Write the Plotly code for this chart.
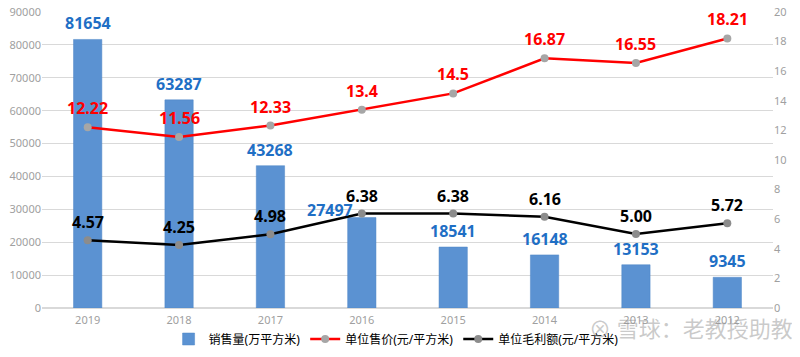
import plotly.graph_objects as go

years = ["2019", "2018", "2017", "2016", "2015", "2014", "2013", "2012"]
sales = [81654, 63287, 43268, 27497, 18541, 16148, 13153, 9345]
price = [12.22, 11.56, 12.33, 13.4, 14.5, 16.87, 16.55, 18.21]
margin = [4.57, 4.25, 4.98, 6.38, 6.38, 6.16, 5.00, 5.72]
sales_labels = ["81654", "63287", "43268", "27497", "18541", "16148", "13153", "9345"]
price_labels = ["12.22", "11.56", "12.33", "13.4", "14.5", "16.87", "16.55", "18.21"]
margin_labels = ["4.57", "4.25", "4.98", "6.38", "6.38", "6.16", "5.00", "5.72"]

FONT = "Noto Sans, Noto Sans CJK SC, sans-serif"
fig = go.Figure()
fig.add_trace(go.Bar(
    x=years, y=sales, name="销售量(万平方米)",
    marker=dict(color="#5b92d2", line=dict(color="#4f86c6", width=0.5)),
))
fig.add_trace(go.Scatter(
    x=years, y=price, name="单位售价(元/平方米)", yaxis="y2", mode="lines+markers",
    line=dict(color="#ff0000", width=2.5),
    marker=dict(color="#a6a6a6", size=8),
))
fig.add_trace(go.Scatter(
    x=years, y=margin, name="单位毛利额(元/平方米)", yaxis="y2", mode="lines+markers",
    line=dict(color="#000000", width=2.5),
    marker=dict(color="#8c8c8c", size=8),
))

annotations = []
for i, (v, t) in enumerate(zip(sales, sales_labels)):
    xs = -32 if t == "27497" else 0
    ys = 8 if t == "27497" else 16
    annotations.append(dict(x=i, y=v, xref="x", yref="y", text=t, showarrow=False,
                            xshift=xs, yshift=ys,
                            font=dict(color="#1f6fc5", size=16, family=FONT, weight="bold")))
for i, (v, t) in enumerate(zip(price, price_labels)):
    annotations.append(dict(x=i, y=v, xref="x", yref="y2", text=t, showarrow=False,
                            yshift=19, font=dict(color="#ff0000", size=16, family=FONT, weight="bold")))
for i, (v, t) in enumerate(zip(margin, margin_labels)):
    annotations.append(dict(x=i, y=v, xref="x", yref="y2", text=t, showarrow=False,
                            yshift=18, font=dict(color="#000000", size=16, family=FONT, weight="bold")))
annotations.append(dict(x=1.03, y=-0.068, xref="paper", yref="paper", xanchor="right", yanchor="middle",
                        text="⊗ 雪球：老教授助教", showarrow=False,
                        font=dict(color="rgba(150,150,150,0.5)", size=22, family=FONT)))

fig.update_layout(
    width=792, height=349,
    margin=dict(l=34, r=27, t=4, b=49, autoexpand=False),
    paper_bgcolor="white", plot_bgcolor="white",
    font=dict(family=FONT, color="#a0a0a0", size=11),
    bargap=0.69,
    showlegend=True,
    legend=dict(orientation="h", xref="container", yref="container", x=0.49, y=0.01,
                xanchor="center", yanchor="bottom",
                font=dict(color="#000000", size=12, family=FONT),
                traceorder="normal"),
    xaxis=dict(type="category", range=[-0.5, len(years) - 0.5], showgrid=False, showline=False, ticks="",
               automargin=False, ticklabelstandoff=4, tickfont=dict(color="#a0a0a0", size=11)),
    yaxis=dict(range=[0, 90000], dtick=10000, tickformat="d", showgrid=True, gridcolor="#d9d9d9", gridwidth=1,
               automargin=False, ticklabeloverflow="allow", zeroline=True, zerolinecolor="#d9d9d9",
               tickfont=dict(color="#a0a0a0", size=11)),
    yaxis2=dict(range=[0, 20], dtick=2, overlaying="y", side="right", showgrid=False,
                automargin=False, ticklabeloverflow="allow", zeroline=False,
                tickfont=dict(color="#a0a0a0", size=11)),
    annotations=annotations,
)
fig.write_html("out.html")
